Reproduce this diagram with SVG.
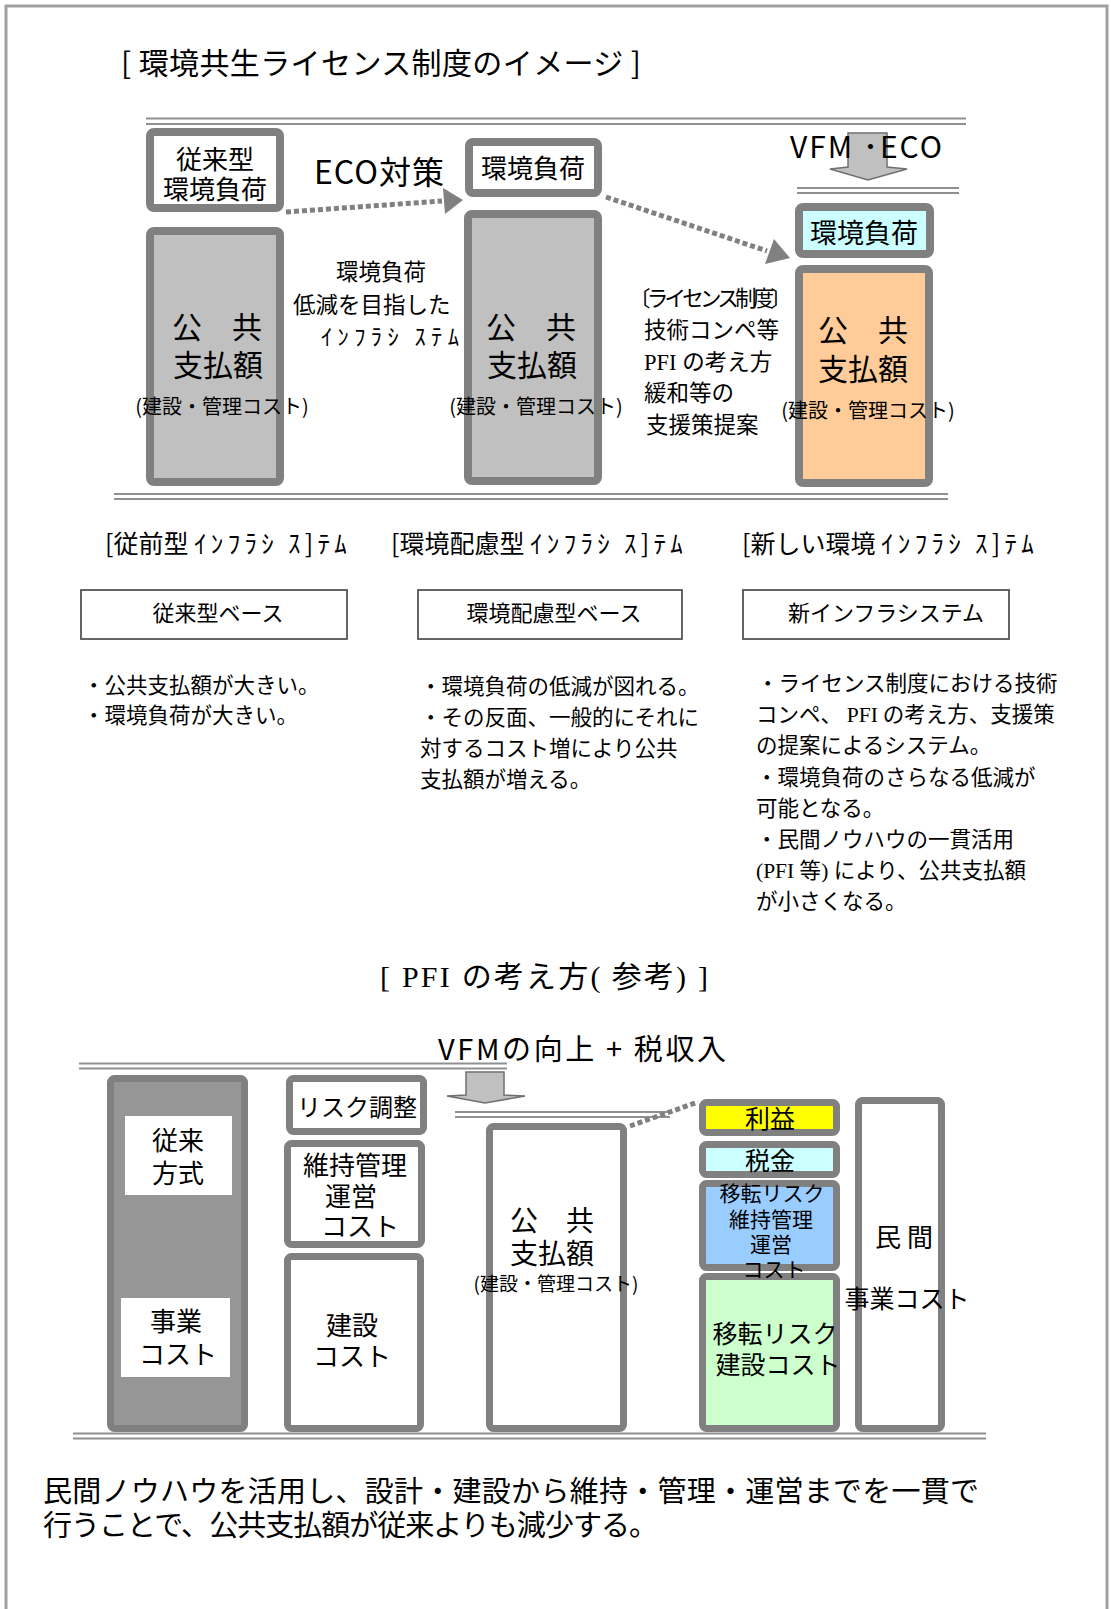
<svg xmlns="http://www.w3.org/2000/svg" width="1111" height="1609" viewBox="0 0 1111 1609">
<style>
text{font-family:"Noto Sans CJK JP","Noto Sans",sans-serif;fill:#000}
.c{text-anchor:middle}
.sf{font-family:"Liberation Serif","Noto Serif CJK JP",serif}
.bx{stroke:#808080;stroke-width:8}
.bx7{stroke:#808080;stroke-width:7}
.dl{stroke:#909090;stroke-width:2;fill:none}
.dot{stroke:#808080;stroke-width:5;stroke-dasharray:5 3;fill:none}
.ga{fill:#c0c0c0;stroke:#707070;stroke-width:1.5}
.lb{fill:#fff;stroke:#555;stroke-width:1.8}
.f22{font-size:22px}
.f21{font-size:21.5px}
.hk{letter-spacing:4.3px}
</style>
<rect x="6" y="6" width="1101" height="1640" fill="#fff" stroke="#a0a0a0" stroke-width="3"/>

<text x="121" y="74" font-size="30" textLength="520">[ 環境共生ライセンス制度のイメージ ]</text>

<g id="connectors">
  <line class="dl" x1="146" y1="118.5" x2="966" y2="118.5"/>
  <line class="dl" x1="146" y1="124" x2="966" y2="124"/>
  <line class="dl" x1="797" y1="188" x2="959" y2="188"/>
  <line class="dl" x1="797" y1="193" x2="959" y2="193"/>
  <line class="dl" x1="114" y1="494" x2="948" y2="494"/>
  <line class="dl" x1="114" y1="499" x2="948" y2="499"/>
  <line class="dot" x1="286" y1="212" x2="442" y2="201"/>
  <polygon points="445,214 443,188 463,200" fill="#808080"/>
  <line class="dot" x1="606" y1="197" x2="767" y2="251"/>
  <polygon points="765,264 774,239 790,258" fill="#808080"/>
  <polygon class="ga" points="848,133 887,133 887,167 907,169 868,180 830,169 848,167"/>
  <line class="dl" x1="79" y1="1063.5" x2="507" y2="1063.5"/>
  <line class="dl" x1="79" y1="1068.5" x2="507" y2="1068.5"/>
  <polygon class="ga" points="466,1072 504,1072 504,1095 525,1096 485,1103 447,1096 466,1095"/>
  <line class="dl" x1="455" y1="1112" x2="670" y2="1112"/>
  <line class="dl" x1="455" y1="1117" x2="670" y2="1117"/>
  <line class="dot" x1="630" y1="1126" x2="698" y2="1102"/>
  <line class="dl" x1="73" y1="1433.5" x2="986" y2="1433.5"/>
  <line class="dl" x1="73" y1="1438.5" x2="986" y2="1438.5"/>
</g>

<text x="314" y="184" font-size="32" textLength="130">ECO対策</text>
<text x="790" y="158" font-size="30" textLength="152">VFM ･ECO</text>

<g id="n-old-load">
  <rect class="bx" x="150" y="132" width="130" height="76" rx="4" fill="#fff"/>
  <text class="c" x="215" y="169" font-size="26">従来型</text>
  <text class="c" x="215" y="199" font-size="26">環境負荷</text>
</g>
<g id="n-old-pay">
  <rect class="bx" x="150" y="231" width="130" height="251" rx="4" fill="#c0c0c0"/>
  <text class="c" x="217" y="338" font-size="30">公　共</text>
  <text class="c" x="218" y="376" font-size="30">支払額</text>
  <text class="c" x="222" y="414" font-size="20">(建設・管理コスト)</text>
</g>
<g id="n-mid1">
  <text x="336" y="280" font-size="22.5">環境負荷</text>
  <text x="293" y="313" font-size="22.5">低減を目指した</text>
  <text x="321" y="345" font-size="22.5" textLength="138">ｲﾝﾌﾗｼ ｽﾃﾑ</text>
</g>
<g id="n-eco-load">
  <rect class="bx" x="469" y="142" width="129" height="51" rx="4" fill="#fff"/>
  <text class="c" x="533" y="178" font-size="26">環境負荷</text>
</g>
<g id="n-eco-pay">
  <rect class="bx" x="468" y="214" width="130" height="267" rx="4" fill="#c0c0c0"/>
  <text class="c" x="531" y="338" font-size="30">公　共</text>
  <text class="c" x="532" y="376" font-size="30">支払額</text>
  <text class="c" x="536" y="414" font-size="20">(建設・管理コスト)</text>
</g>
<g id="n-mid2">
  <text x="629" y="306" font-size="21.5" textLength="163">〔ライセンス制度〕</text>
  <text x="644" y="338" font-size="22.5">技術コンペ等</text>
  <text x="644" y="370" font-size="22.5"><tspan class="sf">PFI </tspan>の考え方</text>
  <text x="644" y="401" font-size="22.5">緩和等の</text>
  <text x="646" y="433" font-size="22.5">支援策提案</text>
</g>
<g id="n-new-load">
  <rect class="bx" x="799" y="207" width="131" height="47" rx="4" fill="#ccffff"/>
  <text class="c" x="864" y="243" font-size="27">環境負荷</text>
</g>
<g id="n-new-pay">
  <rect class="bx" x="799" y="269" width="130" height="214" rx="4" fill="#ffcc99"/>
  <text class="c" x="863" y="341" font-size="30">公　共</text>
  <text class="c" x="863" y="380" font-size="30">支払額</text>
  <text class="c" x="868" y="418" font-size="20">(建設・管理コスト)</text>
</g>

<g id="n-col-a">
  <text x="105" y="553" font-size="25">[従前型 <tspan class="hk">ｲﾝﾌﾗｼ ｽ]ﾃﾑ</tspan></text>
  <rect class="lb" x="81" y="590" width="266" height="49"/>
  <text class="c f22" x="218" y="621">従来型ベース</text>
  <text class="f21" x="83" y="693">・公共支払額が大きい。</text>
  <text class="f21" x="83" y="723">・環境負荷が大きい。</text>
</g>
<g id="n-col-b">
  <text x="391" y="553" font-size="25">[環境配慮型 <tspan class="hk">ｲﾝﾌﾗｼ ｽ]ﾃﾑ</tspan></text>
  <rect class="lb" x="418" y="590" width="264" height="49"/>
  <text class="c f22" x="554" y="621">環境配慮型ベース</text>
  <text class="f21" x="420" y="694">・環境負荷の低減が図れる。</text>
  <text class="f21" x="420" y="725">・その反面、一般的にそれに</text>
  <text class="f21" x="420" y="756">対するコスト増により公共</text>
  <text class="f21" x="420" y="787">支払額が増える。</text>
</g>
<g id="n-col-c">
  <text x="742" y="553" font-size="25">[新しい環境 <tspan class="hk">ｲﾝﾌﾗｼ ｽ]ﾃﾑ</tspan></text>
  <rect class="lb" x="743" y="590" width="266" height="49"/>
  <text class="c f22" x="886" y="621">新インフラシステム</text>
  <text class="f21" x="757" y="691">・ライセンス制度における技術</text>
  <text class="f21" x="756" y="722">コンペ、 <tspan class="sf">PFI</tspan> の考え方、支援策</text>
  <text class="f21" x="756" y="753">の提案によるシステム。</text>
  <text class="f21" x="756" y="785">・環境負荷のさらなる低減が</text>
  <text class="f21" x="756" y="816">可能となる。</text>
  <text class="f21" x="756" y="847">・民間ノウハウの一貫活用</text>
  <text class="f21" x="756" y="878"><tspan class="sf">(PFI </tspan>等<tspan class="sf">) </tspan>により、公共支払額</text>
  <text class="f21" x="756" y="909">が小さくなる。</text>
</g>

<text x="380" y="987" font-size="30" textLength="328"><tspan class="sf">[ PFI </tspan>の考え方<tspan class="sf">(</tspan> 参考<tspan class="sf">)  ]</tspan></text>
<text x="438" y="1060" font-size="29" textLength="288">VFMの向上 + 税収入</text>

<g id="n-conv">
  <rect class="bx7" x="110.5" y="1078.5" width="134" height="350" rx="4" fill="#969696"/>
  <rect x="125" y="1116" width="107" height="79" fill="#fff"/>
  <text class="c" x="178" y="1150" font-size="26">従来</text>
  <text class="c" x="178" y="1183" font-size="26">方式</text>
  <rect x="121" y="1298" width="109" height="79" fill="#fff"/>
  <text class="c" x="176" y="1331" font-size="26">事業</text>
  <text class="c" x="178" y="1364" font-size="26">コスト</text>
</g>
<g id="n-risk">
  <rect class="bx7" x="289.5" y="1078.5" width="134" height="53" rx="4" fill="#fff"/>
  <text class="c" x="357" y="1116" font-size="24">リスク調整</text>
</g>
<g id="n-om">
  <rect class="bx7" x="287.5" y="1143.5" width="134" height="101" rx="4" fill="#fff"/>
  <text class="c" x="355" y="1175" font-size="26">維持管理</text>
  <text class="c" x="351" y="1206" font-size="26">運営</text>
  <text class="c" x="360" y="1236" font-size="26">コスト</text>
</g>
<g id="n-build">
  <rect class="bx7" x="287.5" y="1256.5" width="133" height="172" rx="4" fill="#fff"/>
  <text class="c" x="352" y="1335" font-size="26">建設</text>
  <text class="c" x="352" y="1366" font-size="26">コスト</text>
</g>
<g id="n-public">
  <rect class="bx7" x="489.5" y="1126.5" width="134" height="302" rx="4" fill="#fff"/>
  <text class="c" x="552" y="1231" font-size="28">公　共</text>
  <text class="c" x="552" y="1264" font-size="28">支払額</text>
  <text class="c" x="556" y="1291" font-size="19">(建設・管理コスト)</text>
</g>
<g id="n-profit">
  <rect class="bx7" x="702.5" y="1102.5" width="134" height="30" rx="4" fill="#ffff00"/>
  <text class="c" x="770" y="1128" font-size="25">利益</text>
</g>
<g id="n-tax">
  <rect class="bx7" x="702.5" y="1144.5" width="134" height="30" rx="4" fill="#ccffff"/>
  <text class="c" x="770" y="1170" font-size="25">税金</text>
</g>
<g id="n-risk-build">
  <rect class="bx7" x="702.5" y="1276.5" width="134" height="152" rx="4" fill="#ccffcc"/>
  <text class="c" x="775" y="1343" font-size="25">移転リスク</text>
  <text class="c" x="778" y="1374" font-size="25">建設コスト</text>
</g>
<g id="n-risk-om">
  <rect class="bx7" x="702.5" y="1183.5" width="134" height="84" rx="4" fill="#99ccff"/>
  <text class="c" x="772" y="1201" font-size="21">移転リスク</text>
  <text class="c" x="771" y="1227" font-size="21">維持管理</text>
  <text class="c" x="771" y="1252" font-size="21">運営</text>
  <text class="c" x="774" y="1277" font-size="21">コスト</text>
</g>
<g id="n-private">
  <rect class="bx7" x="858.5" y="1100.5" width="83" height="328" rx="4" fill="#fff"/>
  <text class="c" x="904" y="1247" font-size="26">民 間</text>
  <text class="c" x="907" y="1308" font-size="25">事業コスト</text>
</g>

<text x="43" y="1502" font-size="29" textLength="936">民間ノウハウを活用し、設計・建設から維持・管理・運営までを一貫で</text>
<text x="43" y="1536" font-size="29" textLength="615">行うことで、公共支払額が従来よりも減少する。</text>
</svg>
